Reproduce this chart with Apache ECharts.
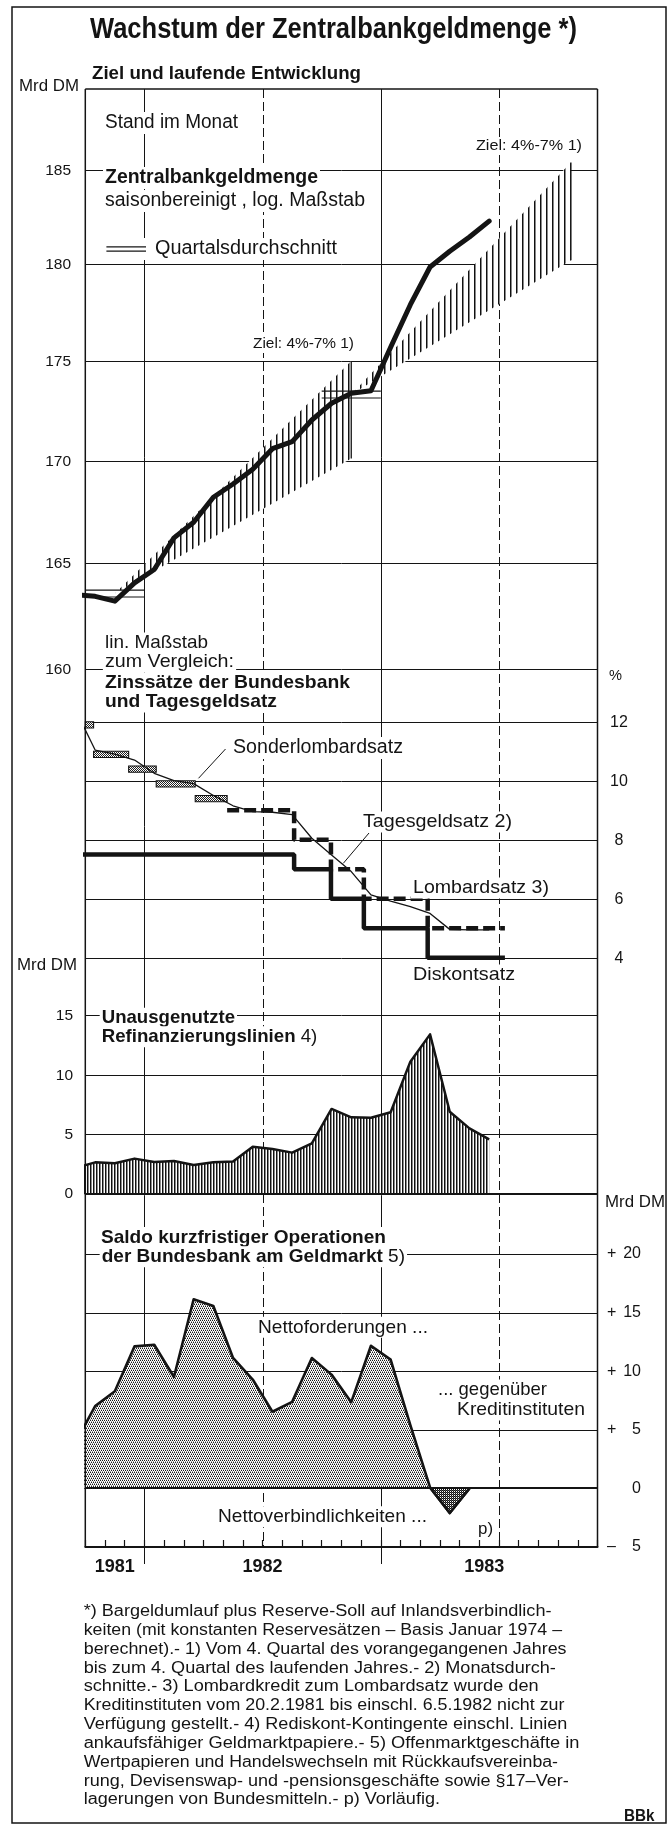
<!DOCTYPE html>
<html><head><meta charset="utf-8">
<script src="https://cdn.jsdelivr.net/npm/echarts@6/dist/echarts.min.js"></script>
<style>html,body{margin:0;padding:0;background:#fff}#c{width:671px;height:1825px}</style>
</head><body><div id="c"></div>
<script>
// ================= DATA =================
// Monthly observations (Sep 1981 .. Jun 1983); axis unit = months, 0 = start of Oct 1981,
// a month's value is plotted at its middle (index - 0.5).
const monthLabels = ['1981-09','1981-10','1981-11','1981-12','1982-01','1982-02','1982-03','1982-04','1982-05','1982-06','1982-07','1982-08','1982-09','1982-10','1982-11','1982-12','1983-01','1983-02','1983-03','1983-04','1983-05','1983-06'];
// Zentralbankgeldmenge, Mrd DM, saisonbereinigt
const cbm = [163.5,163.42,163.19,164.06,164.70,166.22,166.98,168.20,168.85,169.57,170.59,170.94,172.02,172.86,173.36,173.49,175.7,177.89,179.85,180.68,181.43,182.27];
// Tagesgeldsatz (Monatsdurchschnitte), %
const tagesgeld = [12.4,11.04,10.9,10.7,10.25,10.0,9.9,9.5,9.15,8.95,8.93,8.85,8.05,7.48,6.92,6.13,5.92,5.73,5.5,4.96,4.94,4.94];
// Unausgenutzte Refinanzierungslinien, Mrd DM
const refiLines = [2.21,2.67,2.59,2.98,2.70,2.78,2.45,2.67,2.73,3.98,3.78,3.48,4.26,7.13,6.43,6.40,6.85,11.08,13.36,6.9,5.51,4.59];
// Saldo kurzfristiger Operationen, Mrd DM (Sep 1981 .. May 1983)
const saldo = [3.9,7.02,8.29,12.12,12.26,9.51,16.14,15.57,11.13,9.29,6.54,7.39,11.13,9.71,7.36,12.17,10.99,5.4,0.08,-2.1,0.0];

// Policy rates: month position of each change and new rate
const discountChange = [-0.5, 10.6, 12.47, 14.14, 17.38, 21.3];
const discountRate   = [7.5, 7, 6, 5, 4, 4];
const lombardChange  = [7.2, 10.6, 12.47, 14.14, 17.38, 21.3];
const lombardRate    = [9, 8, 7, 6, 5, 5];
const sonderFrom = [0, 0.42, 2.2, 3.6, 5.58];
const sonderTo   = [0.42, 2.2, 3.6, 5.58, 7.2];
const sonderRate = [12, 11, 10.5, 10, 9.5];

// Monetary targets 4%-7% (corridor from Q4 average)
const targetStart = [1.5, 13.5];
const targetEnd   = [13.5, 24.65];
const targetBase  = [163.55, 173.3];
const targetLow   = [170.1, 180.2];
const targetHigh  = [175.0, 185.4];
// Quarterly averages (Q4 1981, Q4 1982)
const quarterFrom = [0, 12];
const quarterTo   = [3, 15];
const quarterAvg  = [163.55, 173.3];

// Axes / ticks
const XMIN = 0, XMAX = 26;
const cbmTicks = [160,165,170,175,180,185];
const rateTicks = [4,6,8,10,12];
const refiTicks = [5,10,15];
const saldoTicks = [5,10,15,20];
const saldoLabelTicks = [-5,0,5,10,15,20];
const saldoSign = ['–','','+','+','+','+'];
const halfYearLines = [3, 9, 15, 21];
const halfYearDashed = [0, 1, 0, 1];
const yearLabels = ['1981','1982','1983'];
const yearPos = [1.5, 9, 20.25];

// ================= RENDER =================
const FONT = '"Liberation Sans", Arial, Helvetica, sans-serif';
const INK = '#141414';
const chart = echarts.init(document.getElementById('c'), null, {renderer:'canvas'});

function pat(w, h, draw){ const c=document.createElement('canvas'); c.width=w; c.height=h; const g=c.getContext('2d'); g.fillStyle='#fff'; g.fillRect(0,0,w,h); draw(g); return {image:c, repeat:'repeat'}; }
const hatchWide = pat(6,4,g=>{g.fillStyle='#111'; g.fillRect(0,0,1,4); g.fillStyle='#888'; g.fillRect(1,0,1,4);});
const hatchDense = pat(3,4,g=>{g.fillStyle='#111'; g.fillRect(0,0,1,4); g.fillStyle='#8a8a8a'; g.fillRect(1,0,1,4);});
const stipple = pat(4,4,g=>{g.fillStyle='#1a1a1a'; [[0,0],[2,0],[1,2],[3,2]].forEach(([x,y])=>g.fillRect(x,y,1,1)); g.fillStyle='#999'; [[1,1],[3,1],[0,3],[2,3]].forEach(([x,y])=>g.fillRect(x,y,1,1));});
const stippleMid = pat(2,2,g=>{g.fillStyle='#222'; g.fillRect(0,0,1,1); g.fillRect(1,1,1,1);});
const stippleDark = pat(2,2,g=>{g.fillStyle='#111'; g.fillRect(0,0,1,1); g.fillRect(1,1,1,1); g.fillStyle='#555'; g.fillRect(1,0,1,1);});

const mc = document.createElement('canvas').getContext('2d');
function measure(parts, size){ let w=0; parts.forEach(([t,b])=>{ mc.font=(b?'bold ':'')+size+'px '+FONT; w+=mc.measureText(t).width; }); return w; }
function T(parts, x0, x1, yc, size, o){
  o = o || {};
  if (typeof parts === 'string') parts = [[parts, !!o.bold]];
  const sx = (x1 - x0) / measure(parts, size);
  const rich = {}; let text = '';
  parts.forEach(([t,b],i)=>{ rich['p'+i] = {fontFamily:FONT, fontSize:size, fontWeight:b?'bold':'normal', fill:INK}; text += '{p'+i+'|'+t+'}'; });
  const bg = o.bg !== false;
  const pad = bg ? 2 : 0;
  return {type:'text', x:x0 - pad*sx, y:yc, scaleX:sx, z:100, silent:true,
    style:{text, rich, fill:INK, fontFamily:FONT, fontSize:size, align:'left', verticalAlign:'middle',
      textAlign:'left', textVerticalAlign:'middle', backgroundColor:bg?'#fff':null, padding:bg?[1,pad]:0}};
}
function txt(s, x, y, size, align, bold){
  return {type:'text', x, y, style:{text:s, fill:INK, font:(bold?'bold ':'')+size+'px '+FONT, align, verticalAlign:'middle', textAlign:align, textVerticalAlign:'middle'}};
}

const L = 85.3, R = 671 - 597.5;
const grids = [
  {left:L, right:R, top:89, height:1458},      // 0 frame & verticals
  {left:L, right:R, top:89, height:580},       // 1 log CBM 160..189.41
  {left:L, right:R, top:668.6, height:318.6},  // 2 rates 3..13.8
  {left:L, right:R, top:984.8, height:209.5},  // 3 refi 0..17.5
  {left:L, right:R, top:1230.6, height:316.4}, // 4 saldo -5..22
  {left:L, right:R, top:1488.4, height:58.6}   // 5 saldo negative overlay
];
const xAxes = grids.map((g,i)=>({type:'value', gridIndex:i, min:XMIN, max:XMAX, show:false}));
xAxes[4] = {type:'value', gridIndex:4, min:XMIN, max:XMAX, interval:1, show:true, position:'bottom',
  axisLine:{show:true, onZero:false, lineStyle:{color:INK, width:2}},
  axisTick:{show:true, inside:true, length:7, lineStyle:{color:INK, width:1.2}},
  axisLabel:{show:false}, splitLine:{show:false}};
const yAxes = [
  {type:'value', gridIndex:0, min:0, max:1, show:false},
  {type:'log', gridIndex:1, min:160, max:189.41, show:false},
  {type:'value', gridIndex:2, min:3, max:13.8, show:false},
  {type:'value', gridIndex:3, min:0, max:17.5, show:false},
  {type:'value', gridIndex:4, min:-5, max:22, show:false},
  {type:'value', gridIndex:5, min:-5, max:0, show:false}
];

const monthX = i => i - 0.5;
const pairs = arr => arr.map((v,i)=>[monthX(i), v]);
const stepPairs = (xs, ys) => xs.map((x,i)=>[x, ys[i]]);

function gridSeries(gi, ticks, labelFn, z, width){
  return {type:'custom', xAxisIndex:gi, yAxisIndex:gi, z:z||1, silent:true, clip:false,
    data: ticks.map(v=>[XMIN, v]),
    renderItem(params, api){
      const v = api.value(1);
      const a = api.coord([XMIN, v]), b = api.coord([XMAX, v]);
      const y = Math.round(a[1]) + ((width||1) % 2 ? 0.5 : 0);
      const ch = [{type:'line', shape:{x1:a[0], y1:y, x2:b[0], y2:y}, style:{stroke:INK, lineWidth:width||1}}];
      if (labelFn) labelFn(v, y, ch, params.dataIndex);
      return {type:'group', children:ch};
    }};
}
function labelOnly(gi, ticks, labelFn){
  return {type:'custom', xAxisIndex:gi, yAxisIndex:gi, z:1, silent:true, clip:false,
    data: ticks.map(v=>[XMIN, v]),
    renderItem(params, api){ const v=api.value(1); const a=api.coord([XMIN,v]); const ch=[]; labelFn(v, a[1], ch, params.dataIndex); return {type:'group', children:ch}; }};
}

const series = [];
// frame box
series.push({type:'custom', xAxisIndex:0, yAxisIndex:0, z:8, silent:true, clip:false, data:[[XMIN,0]],
  renderItem(params, api){
    const a = api.coord([XMIN,1]), b = api.coord([XMAX,0]);
    return {type:'group', children:[
      {type:'line', shape:{x1:a[0], y1:a[1], x2:b[0], y2:a[1]}, style:{stroke:INK, lineWidth:1.5}},
      {type:'line', shape:{x1:a[0], y1:a[1], x2:a[0], y2:b[1]}, style:{stroke:INK, lineWidth:1.5}},
      {type:'line', shape:{x1:b[0], y1:a[1], x2:b[0], y2:b[1]}, style:{stroke:INK, lineWidth:1.5}}
    ]};
  }});
// half-year verticals
series.push({type:'custom', xAxisIndex:0, yAxisIndex:0, z:1, silent:true, clip:false,
  data: halfYearLines.map((m,i)=>[m, halfYearDashed[i]]),
  renderItem(params, api){
    const m = api.value(0), d = api.value(1);
    const a = api.coord([m,1]), b = api.coord([m,0]);
    const x = Math.round(a[0]) + 0.5;
    return {type:'line', shape:{x1:x, y1:a[1], x2:x, y2:b[1] + (d ? 0 : 17)}, style:{stroke:INK, lineWidth:1, lineDash: d ? [9,4] : null}};
  }});

// ---- grid 1: CBM log ----
series.push(gridSeries(1, cbmTicks, (v,y,ch)=>ch.push(txt(String(v), 71, y, 15.5, 'right'))));
series.push({type:'custom', xAxisIndex:1, yAxisIndex:1, z:3, silent:true,
  data: targetStart.map((s,i)=>[s, targetBase[i], targetEnd[i], targetLow[i], targetHigh[i]]),
  renderItem(params, api){
    const p0 = api.coord([api.value(0), api.value(1)]);
    const pH = api.coord([api.value(2), api.value(4)]);
    const pL = api.coord([api.value(2), api.value(3)]);
    return {type:'group', children:[
      {type:'polygon', shape:{points:[p0,pH,pL]}, style:{fill:hatchWide}},
      {type:'line', shape:{x1:pH[0], y1:pH[1], x2:pL[0], y2:pL[1]}, style:{stroke:INK, lineWidth:1.3}}
    ]};
  }});
series.push({type:'custom', xAxisIndex:1, yAxisIndex:1, z:4, silent:true,
  data: quarterFrom.map((f,i)=>[f, quarterTo[i], quarterAvg[i]]),
  renderItem(params, api){
    const a = api.coord([api.value(0), api.value(2)]), b = api.coord([api.value(1), api.value(2)]);
    const o = 3.4;
    return {type:'group', children:[
      {type:'line', shape:{x1:a[0], y1:a[1]-o, x2:b[0], y2:a[1]-o}, style:{stroke:INK, lineWidth:1.1}},
      {type:'line', shape:{x1:a[0], y1:a[1]+o, x2:b[0], y2:a[1]+o}, style:{stroke:INK, lineWidth:1.1}}
    ]};
  }});
series.push({type:'line', name:'Zentralbankgeldmenge', xAxisIndex:1, yAxisIndex:1, z:5, data:pairs(cbm), symbol:'none', clip:true,
  lineStyle:{color:INK, width:5, cap:'round', join:'round'}});

// ---- grid 2: rates ----
series.push(gridSeries(2, rateTicks, (v,y,ch)=>ch.push(txt(String(v), 619, y, 16, 'center'))));
series.push({type:'custom', xAxisIndex:2, yAxisIndex:2, z:3, silent:true,
  data: sonderFrom.map((f,i)=>[f, sonderTo[i], sonderRate[i]]),
  renderItem(params, api){
    const a = api.coord([api.value(0), api.value(2)]), b = api.coord([api.value(1), api.value(2)]);
    return {type:'rect', shape:{x:a[0], y:a[1], width:b[0]-a[0], height:6.3}, style:{fill:stippleMid, stroke:INK, lineWidth:1.1}};
  }});
series.push({type:'line', name:'Tagesgeldsatz', xAxisIndex:2, yAxisIndex:2, z:4, data:pairs(tagesgeld), symbol:'none', clip:true,
  lineStyle:{color:INK, width:1.3}});
series.push({type:'line', name:'Lombardsatz', xAxisIndex:2, yAxisIndex:2, z:5, step:'end', data:stepPairs(lombardChange, lombardRate), symbol:'none', clip:true,
  lineStyle:{color:INK, width:4.5, type:[12,5]}});
series.push({type:'line', name:'Diskontsatz', xAxisIndex:2, yAxisIndex:2, z:5, step:'end', data:stepPairs(discountChange, discountRate), symbol:'none', clip:true,
  lineStyle:{color:INK, width:4.5}});

// ---- grid 3: refinancing lines ----
series.push(gridSeries(3, refiTicks, (v,y,ch)=>ch.push(txt(String(v), 73, y, 15.5, 'right'))));
series.push(gridSeries(3, [0], (v,y,ch)=>ch.push(txt(String(v), 73, y, 15.5, 'right')), 6, 2));
series.push({type:'line', name:'Refinanzierungslinien', xAxisIndex:3, yAxisIndex:3, z:4, data:pairs(refiLines), symbol:'none', clip:true,
  lineStyle:{color:INK, width:2.5, join:'round'}, areaStyle:{color:hatchDense, opacity:1, origin:0}});

// ---- grid 4/5: Saldo ----
series.push(gridSeries(4, saldoTicks, null));
series.push(gridSeries(4, [0], null, 6, 2));
series.push(labelOnly(4, saldoLabelTicks, (v,y,ch,i)=>{
  if (saldoSign[i]) ch.push(txt(saldoSign[i], 607, y, 16, 'left'));
  ch.push(txt(String(Math.abs(v)), 641, y, 16, 'right'));
}));
series.push({type:'line', name:'Saldo', xAxisIndex:4, yAxisIndex:4, z:4, data:pairs(saldo), symbol:'none', clip:true,
  lineStyle:{color:INK, width:2.6, join:'round'}, areaStyle:{color:stipple, opacity:1, origin:0}});
series.push({type:'line', name:'Saldo negativ', xAxisIndex:5, yAxisIndex:5, z:5, data:pairs(saldo), symbol:'none', clip:true,
  lineStyle:{color:INK, width:2.6, join:'round'}, areaStyle:{color:stippleDark, opacity:1, origin:0}});
series.push({type:'custom', xAxisIndex:4, yAxisIndex:4, z:6, silent:true, clip:false,
  data: yearPos.map(p=>[p, -5]),
  renderItem(params, api){
    const p = api.coord([api.value(0), -5]);
    return txt(yearLabels[params.dataIndex], p[0], p[1] + 20, 18, 'center', true);
  }});

// ---- texts ----
const footY0 = 1611.7, footDy = 18.83;
const foot = [
  ['*) Bargeldumlauf plus Reserve-Soll auf Inlandsverbindlich-', 551.5],
  ['keiten (mit konstanten Reservesätzen – Basis Januar 1974 –', 562],
  ['berechnet).- 1) Vom 4. Quartal des vorangegangenen Jahres', 566.5],
  ['bis zum 4. Quartal des laufenden Jahres.- 2) Monatsdurch-', 555.8],
  ['schnitte.- 3) Lombardkredit zum Lombardsatz wurde den', 538.6],
  ['Kreditinstituten vom 20.2.1981 bis einschl. 6.5.1982 nicht zur', 564.4],
  ['Verfügung gestellt.- 4) Rediskont-Kontingente einschl. Linien', 567.4],
  ['ankaufsfähiger Geldmarktpapiere.- 5) Offenmarktgeschäfte in', 579.4],
  ['Wertpapieren und Handelswechseln mit Rückkaufsvereinba-', 558],
  ['rung, Devisenswap- und -pensionsgeschäfte sowie §17–Ver-', 568.7],
  ['lagerungen von Bundesmitteln.- p) Vorläufig.', 440]
];
const graphics = [
  {type:'rect', shape:{x:12, y:7, width:654, height:1816}, style:{fill:null, stroke:INK, lineWidth:1.5}, z:0, silent:true},
  T('Wachstum der Zentralbankgeldmenge *)', 90, 577, 30, 30, {bold:true, bg:false}),
  T('Ziel und laufende Entwicklung', 92, 361, 74, 18, {bold:true, bg:false}),
  T('Mrd DM', 19, 79, 86, 16.5, {bg:false}),
  T('Stand im Monat', 105, 238, 123, 19.5),
  T('Ziel: 4%-7% 1)', 476, 582, 146, 15.5),
  T('Zentralbankgeldmenge', 105, 318, 178, 19.5, {bold:true}),
  T('saisonbereinigt , log. Maßstab', 105, 365, 201, 19.5),
  {type:'rect', shape:{x:103, y:238, width:46, height:22}, style:{fill:'#fff'}, z:99, silent:true},
  {type:'line', shape:{x1:106.4, y1:246.8, x2:146, y2:246.8}, style:{stroke:INK, lineWidth:1.2}, z:100, silent:true},
  {type:'line', shape:{x1:106.4, y1:251.2, x2:146, y2:251.2}, style:{stroke:INK, lineWidth:1.2}, z:100, silent:true},
  T('Quartalsdurchschnitt', 155, 337, 249, 19.5),
  T('Ziel: 4%-7% 1)', 253, 354, 344, 15.5),
  T('lin. Maßstab', 105, 208, 643, 18.5),
  T('zum Vergleich:', 105, 234, 662, 18.5),
  T('Zinssätze der Bundesbank', 105, 350, 683, 19, {bold:true}),
  T('und Tagesgeldsatz', 105, 277, 702, 19, {bold:true}),
  T('%', 609, 622, 676, 15, {bg:false}),
  T('Sonderlombardsatz', 233, 403, 748, 19.5),
  {type:'line', shape:{x1:225.5, y1:749, x2:198.5, y2:778.3}, style:{stroke:INK, lineWidth:1}, z:100, silent:true},
  T('Tagesgeldsatz 2)', 363, 512, 822, 19),
  {type:'line', shape:{x1:369, y1:833, x2:343.3, y2:863.3}, style:{stroke:INK, lineWidth:1}, z:100, silent:true},
  T('Lombardsatz 3)', 413, 549, 888, 19),
  T('Diskontsatz', 413, 515, 975, 19),
  T('Mrd DM', 17, 77, 965, 16.5, {bg:false}),
  T('Unausgenutzte', 101.7, 235, 1018.3, 18.5, {bold:true}),
  T([['Refinanzierungslinien', true], [' 4)', false]], 101.7, 317.3, 1036.7, 18.5),
  T('Mrd DM', 605, 665, 1202, 16.5, {bg:false}),
  T('Saldo kurzfristiger Operationen', 101, 386, 1237.5, 18.5, {bold:true}),
  T([['der Bundesbank am Geldmarkt', true], [' 5)', false]], 101.7, 405, 1256.7, 18.5),
  T('Nettoforderungen ...', 258, 428, 1327.3, 19),
  T('... gegenüber', 438, 547, 1390, 19),
  T('Kreditinstituten', 457, 585, 1410, 19),
  T('Nettoverbindlichkeiten ...', 218, 427, 1516.7, 19),
  T('p)', 478, 493, 1530, 16),
  T('BBk', 624, 654.5, 1816.7, 16, {bold:true, bg:false})
];
foot.forEach(([s, x1], i)=>graphics.push(T(s, 83.7, x1, footY0 + i*footDy, 16, {bg:false})));

chart.setOption({
  animation:false,
  backgroundColor:'#fff',
  grid:grids, xAxis:xAxes, yAxis:yAxes, series,
  graphic:{elements:graphics}
});
</script></body></html>
